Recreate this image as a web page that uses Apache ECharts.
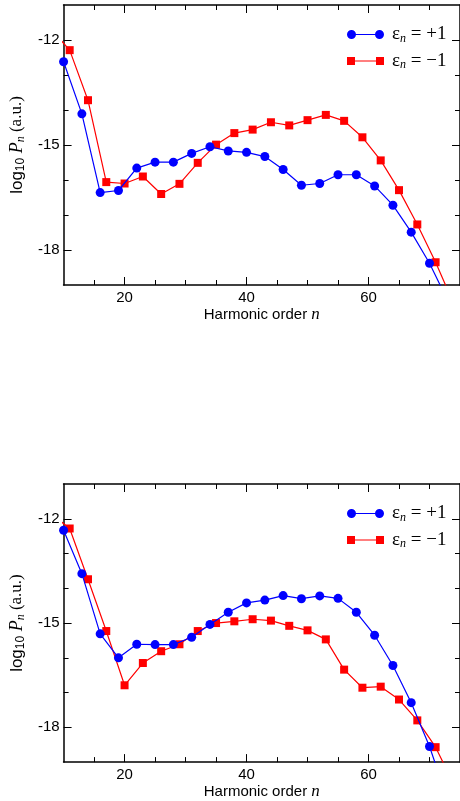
<!DOCTYPE html>
<html>
<head>
<meta charset="utf-8">
<script src="https://cdn.jsdelivr.net/npm/echarts@6/dist/echarts.min.js"></script>
<style>html,body{margin:0;padding:0;background:#fff;}#c{width:460px;height:801px;}</style>
</head>
<body>
<div id="c"></div>
<script>
// ---- data ----
const plusX  = [10,13,16,19,22,25,28,31,34,37,40,43,46,49,52,55,58,61,64,67,70,73];
const minusX = [8,11,14,17,20,23,26,29,32,35,38,41,44,47,50,53,56,59,62,65,68,71,74];
const topPlusY  = [-12.62,-14.11,-16.36,-16.30,-15.66,-15.49,-15.49,-15.24,-15.05,-15.17,-15.21,-15.33,-15.70,-16.15,-16.10,-15.85,-15.85,-16.17,-16.72,-17.49,-18.38,-19.45];
const topMinusY = [-11.70,-12.29,-13.72,-16.06,-16.10,-15.90,-16.40,-16.11,-15.51,-14.99,-14.66,-14.56,-14.35,-14.44,-14.29,-14.14,-14.31,-14.78,-15.44,-16.29,-17.27,-18.35,-19.55];
const botPlusY  = [-12.33,-13.58,-15.31,-16.00,-15.61,-15.62,-15.62,-15.41,-15.04,-14.69,-14.42,-14.34,-14.21,-14.30,-14.22,-14.29,-14.69,-15.35,-16.22,-17.29,-18.55,-20.10];
const botMinusY = [-11.86,-12.28,-13.74,-15.23,-16.79,-16.15,-15.81,-15.61,-15.23,-15.00,-14.95,-14.89,-14.93,-15.08,-15.21,-15.47,-16.34,-16.86,-16.83,-17.20,-17.80,-18.57,-19.65];
const xMajorTicks = [20,40,60];
const xMinorTicks = [15,25,30,35,45,50,55,65,70];
const yMajorTicks = [-18,-15,-12];
const yMinorTicks = [-17,-16,-14,-13];
const xRange = [10,75];
const yRange = [-19,-11];
const seriesNames = ['plus','minus'];
const legendText = {plus:'{e|ε}{s|n}{t| = +1}', minus:'{e|ε}{s|n}{t| = \u22121}'};

// ---- layout ----
const gridTops = [5,484];
const SANS = 'Liberation Sans, Arial, sans-serif';
const SERIF = 'Liberation Serif, Times New Roman, serif';

const grids = gridTops.map(t => ({left:62, width:401, top:t, height:280}));
const xAxes = [], yAxes = [];
const lineCol = '#000';

function xAx(gi, pos, ticks, len, withLabel, withLine) {
  const a = {
    type:'value', gridIndex:gi, position:pos, min:xRange[0], max:xRange[1],
    splitLine:{show:false},
    axisLine:{show:withLine, onZero:false, lineStyle:{color:lineCol, width:1.5}},
    axisTick:{show:true, inside:true, length:len, customValues:ticks, lineStyle:{color:lineCol, width:1}},
    axisLabel:{show:withLabel, customValues:ticks, margin:5, color:'#000', fontFamily:SANS, fontSize:15}
  };
  if (withLabel) {
    a.name = '{a|Harmonic order }{b|n}';
    a.nameLocation = 'middle';
    a.nameGap = 18;
    a.nameTextStyle = {rich:{
      a:{fontFamily:SANS, fontSize:15, color:'#000'},
      b:{fontFamily:SERIF, fontStyle:'italic', fontSize:17, color:'#000'}
    }};
  }
  xAxes.push(a);
  return xAxes.length-1;
}
function yAx(gi, pos, ticks, len, withLabel, withLine) {
  const a = {
    type:'value', gridIndex:gi, position:pos, min:yRange[0], max:yRange[1],
    splitLine:{show:false},
    axisLine:{show:withLine, onZero:false, lineStyle:{color:lineCol, width:1.5}},
    axisTick:{show:true, inside:true, length:len, customValues:ticks, lineStyle:{color:lineCol, width:1}},
    axisLabel:{show:withLabel, customValues:ticks, margin:4, color:'#000', fontFamily:SANS, fontSize:15}
  };
  if (withLabel) {
    a.name = '{s|log}{sub|10}{ip| P}{isub|n}{r| (a.u.)}';
    a.nameLocation = 'middle';
    a.nameGap = 30;
    a.nameTextStyle = {rich:{
      s:{fontFamily:SANS, fontSize:17, color:'#000', lineHeight:20},
      sub:{fontFamily:SANS, fontSize:12, color:'#000', lineHeight:11, verticalAlign:'bottom'},
      ip:{fontFamily:SERIF, fontStyle:'italic', fontSize:18, color:'#000', lineHeight:20},
      isub:{fontFamily:SERIF, fontStyle:'italic', fontSize:12, color:'#000', lineHeight:11, verticalAlign:'bottom'},
      r:{fontFamily:SERIF, fontSize:17, color:'#000', lineHeight:20}
    }};
  }
  yAxes.push(a);
  return yAxes.length-1;
}

const series = [];
const legends = [];
const dataSets = [[topPlusY, topMinusY],[botPlusY, botMinusY]];
const circleIcon = 'path://M0,4.5 A4.5,4.5 0 1,1 9,4.5 A4.5,4.5 0 1,1 0,4.5 Z M8,3.9 L29,3.9 L29,5.1 L8,5.1 Z M28,4.5 A4.5,4.5 0 1,1 37,4.5 A4.5,4.5 0 1,1 28,4.5 Z';
const squareIcon = 'path://M0,0.5 L8,0.5 L8,8.5 L0,8.5 Z M7,3.9 L30,3.9 L30,5.1 L7,5.1 Z M29,0.5 L37,0.5 L37,8.5 L29,8.5 Z';

gridTops.forEach((t, gi) => {
  const xi = xAx(gi, 'bottom', xMajorTicks, 8, true, true);
  xAx(gi, 'bottom', xMinorTicks, 5, false, false);
  xAx(gi, 'top', xMajorTicks, 8, false, true);
  xAx(gi, 'top', xMinorTicks, 5, false, false);
  const yi = yAx(gi, 'left', yMajorTicks, 8, true, true);
  yAx(gi, 'left', yMinorTicks, 5, false, false);
  yAx(gi, 'right', yMajorTicks, 8, false, true);
  yAx(gi, 'right', yMinorTicks, 5, false, false);

  const [pY, mY] = dataSets[gi];
  series.push({
    name:seriesNames[0], type:'line', xAxisIndex:xi, yAxisIndex:yi,
    data: plusX.map((x,i)=>[x,pY[i]]),
    symbol:'circle', symbolSize:9, clip:true, z:3,
    itemStyle:{color:'#0000ff'}, lineStyle:{color:'#0000ff', width:1.2},
    emphasis:{disabled:true}, animation:false
  });
  series.push({
    name:seriesNames[1], type:'line', xAxisIndex:xi, yAxisIndex:yi,
    data: minusX.map((x,i)=>[x,mY[i]]),
    symbol:'rect', symbolSize:8, clip:true, z:2,
    itemStyle:{color:'#ff0000'}, lineStyle:{color:'#ff0000', width:1.2},
    emphasis:{disabled:true}, animation:false
  });
  legends.push({
    orient:'vertical', left:342, top:t+15, itemWidth:37, itemHeight:9, itemGap:7,
    selectedMode:false,
    data:[{name:seriesNames[0], icon:circleIcon},{name:seriesNames[1], icon:squareIcon}],
    formatter: n => legendText[n],
    textStyle:{rich:{
      e:{fontFamily:SERIF, fontSize:19, color:'#000', lineHeight:20, padding:[0,0,0,3]},
      s:{fontFamily:SERIF, fontStyle:'italic', fontSize:12, color:'#000', lineHeight:12, verticalAlign:'bottom'},
      t:{fontFamily:SERIF, fontSize:19, color:'#000', lineHeight:20}
    }}
  });
});

const chart = echarts.init(document.getElementById('c'), null, {renderer:'canvas'});
chart.setOption({
  animation:false,
  backgroundColor:'#fff',
  grid:grids, xAxis:xAxes, yAxis:yAxes, series:series, legend:legends
});
</script>
</body>
</html>
